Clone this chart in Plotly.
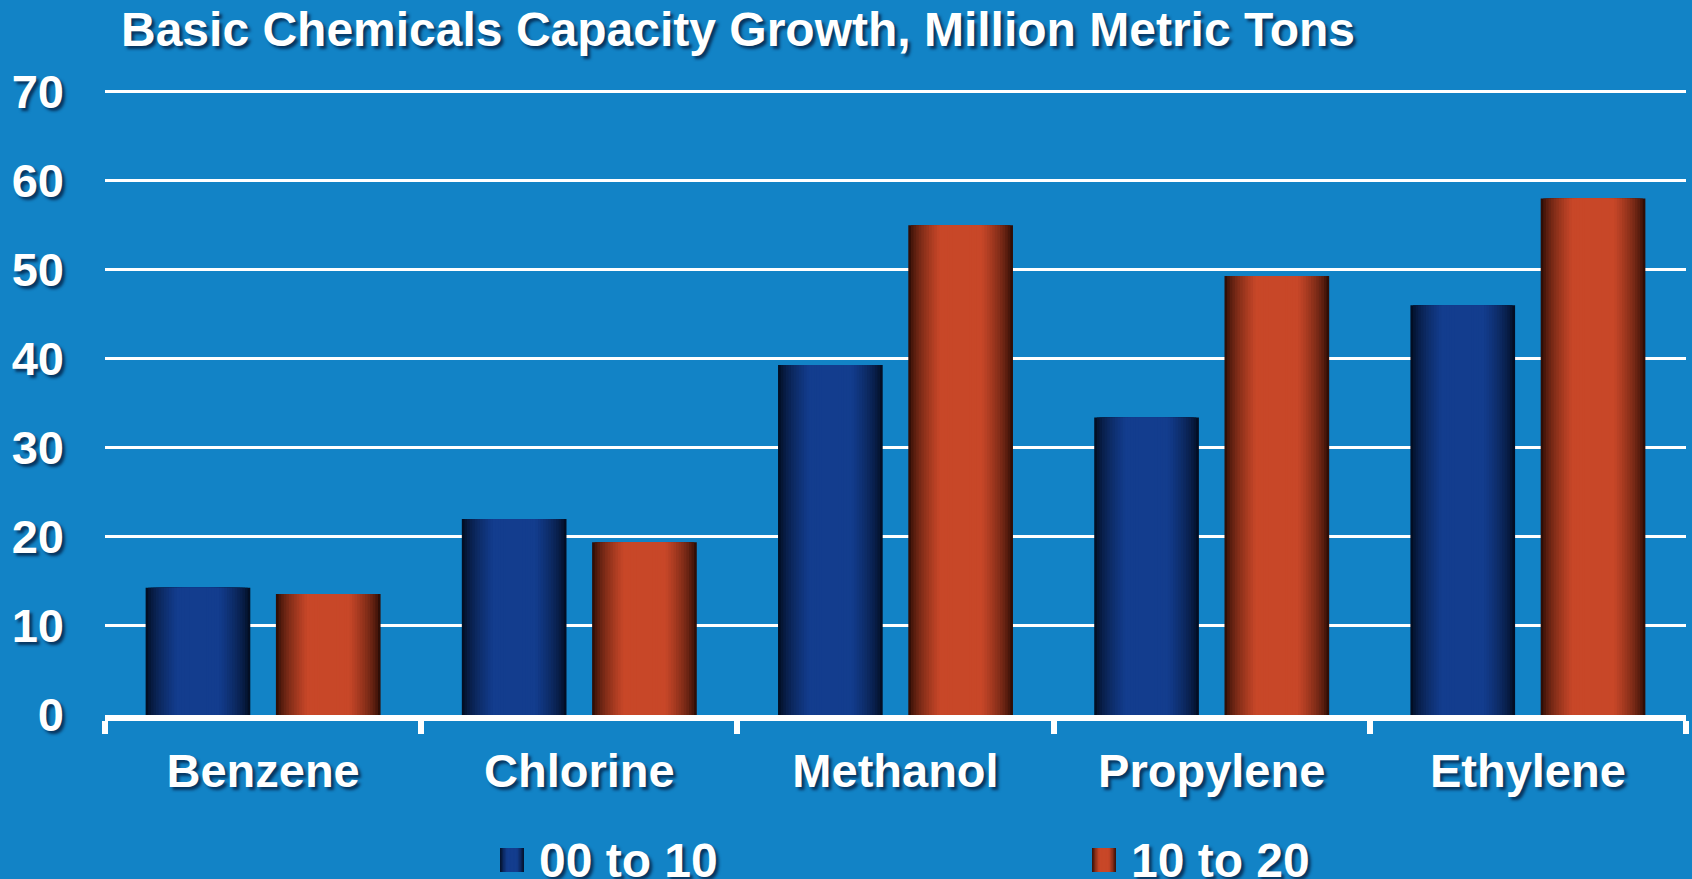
import plotly.graph_objects as go

# Capacity growth by chemical, million metric tons
categories = ["Benzene", "Chlorine", "Methanol", "Propylene", "Ethylene"]
growth_00_10 = [14.3, 22.0, 39.3, 33.4, 46.0]
growth_10_20 = [13.6, 19.4, 55.0, 49.3, 58.0]
series_names = ["00 to 10", "10 to 20"]
y_ticks = [0, 10, 20, 30, 40, 50, 60, 70]

BG = "#1283C6"
FONT = "Liberation Sans"
SHADOW = "3px 3px 3px rgba(0,10,40,0.65)"

# (edge colour, peak colour) for the cylinder-like shading of each series
shades = [((0, 6, 18), (19, 61, 142)), ((22, 4, 0), (200, 71, 40))]

BAR_W = 0.331          # bar width in category units
CENTERS = [-0.206, 0.206]
N_LAYERS = 18
Y_MAX = 70.4           # a little headroom so the 70 gridline is drawn


def mix(c0, c1, t):
    return "rgb(%d,%d,%d)" % tuple(round(a + (b - a) * t) for a, b in zip(c0, c1))


def brightness(p):
    # p: distance from the bar edge as a fraction of the bar width (0..0.5)
    return min(1.0, (p / 0.3) ** 0.6)


fig = go.Figure()

for s, values in enumerate([growth_00_10, growth_10_20]):
    edge, peak = shades[s]
    for k in range(N_LAYERS):
        p = 0.42 * k / (N_LAYERS - 1)
        w = BAR_W * (1 - 2 * p)
        t = brightness(p + 0.42 / (N_LAYERS - 1) / 2)
        fig.add_trace(go.Bar(
            x=categories, y=values,
            width=w, offset=CENTERS[s] - w / 2,
            marker=dict(color=mix(edge, peak, t), line=dict(width=0)),
            name=series_names[s], showlegend=False,
            hovertemplate="%{x}: %{y}<extra>" + series_names[s] + "</extra>",
        ))

# Page geometry (px)
W, H = 1692, 879
plot_l, plot_r, plot_b = 105, 6, 164
unit_px = (H - plot_b - 92) / 70          # pixels per million tons
plot_t = round(H - plot_b - Y_MAX * unit_px)
pw, ph = W - plot_l - plot_r, H - plot_t - plot_b


def px_to_paper_x(px):
    return (px - plot_l) / pw


def px_to_paper_y(py):
    return (H - plot_b - py) / ph


# Legend keys drawn as shaded swatches with labels
legend_items = [(500, 537), (1092, 1129)]
swatch = 24
for s, (sx, tx) in enumerate(legend_items):
    edge, peak = shades[s]
    n = 8
    for k in range(n):
        p = 0.45 * k / (n - 1)
        x0 = sx + swatch * p
        x1 = sx + swatch * (1 - p)
        fig.add_shape(type="rect", xref="paper", yref="paper",
                      x0=px_to_paper_x(x0), x1=px_to_paper_x(x1),
                      y0=px_to_paper_y(872), y1=px_to_paper_y(848),
                      fillcolor=mix(edge, peak, brightness(p + 0.03)),
                      line=dict(width=0), layer="above")
    fig.add_annotation(
        text=series_names[s], xref="paper", yref="paper",
        x=px_to_paper_x(tx), y=px_to_paper_y(860),
        xanchor="left", yanchor="middle", showarrow=False,
        font=dict(family=FONT, size=48, color="white", weight="bold",
                  shadow=SHADOW),
    )

fig.update_layout(
    width=W, height=H,
    paper_bgcolor=BG, plot_bgcolor=BG,
    margin=dict(l=plot_l, r=plot_r, t=plot_t, b=plot_b),
    barmode="overlay",
    showlegend=False,
    title=dict(
        text="Basic Chemicals Capacity Growth, Million Metric Tons",
        xref="container", yref="container",
        x=121 / W, y=1 - 29 / H, xanchor="left", yanchor="middle",
        font=dict(family=FONT, size=48, color="white", weight="bold",
                  shadow=SHADOW),
    ),
    xaxis=dict(
        type="category",
        showline=True, linecolor="white", linewidth=6,
        ticks="outside", tickson="boundaries", ticklen=13, tickwidth=6,
        tickcolor="white", showgrid=False,
        tickfont=dict(family=FONT, size=47, color="white", weight="bold",
                      shadow=SHADOW),
        ticklabelstandoff=10,
    ),
    yaxis=dict(
        range=[0, Y_MAX], tickvals=y_ticks,
        showgrid=True, gridcolor="white", gridwidth=3,
        zeroline=False, showline=False, ticks="",
        tickfont=dict(family=FONT, size=47, color="white", weight="bold",
                      shadow=SHADOW),
        ticklabelstandoff=40,
    ),
)

fig.write_html("out.html")
